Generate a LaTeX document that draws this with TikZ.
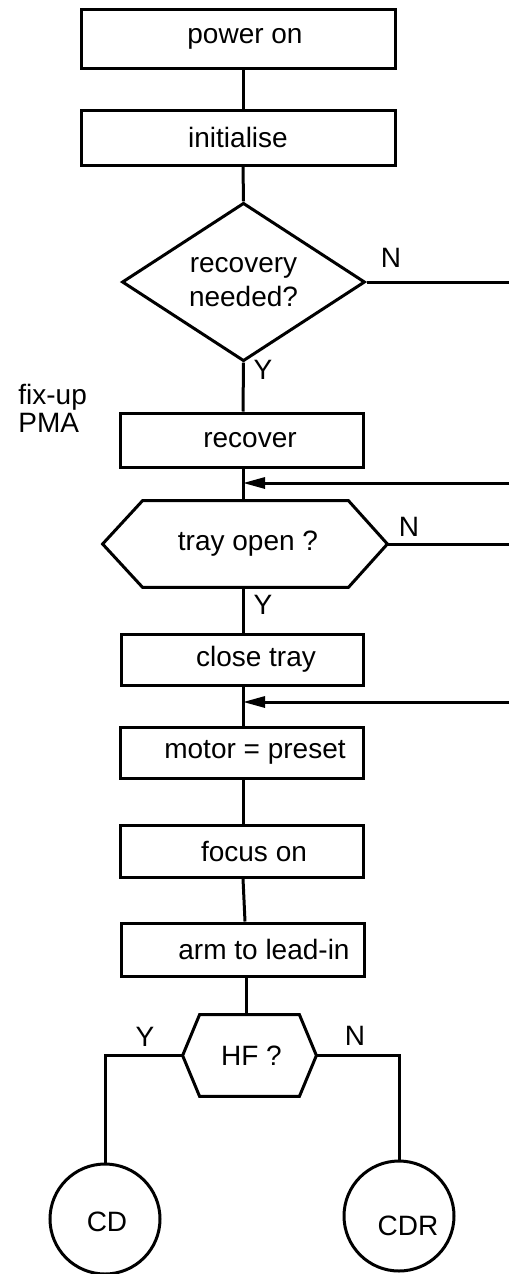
\documentclass[tikz,border=0pt]{standalone}
\usepackage{fontspec}
\setmainfont{Liberation Sans}
\usetikzlibrary{shapes.geometric,arrows.meta,calc}
\tikzset{
  ln/.style={line width=1.5pt, line join=miter},
  box/.style={ln, draw, rectangle, inner sep=0pt},
  hexbox/.style={rectangle, inner sep=0pt},
  dia/.style={ln, draw, diamond, inner sep=0pt, align=center},
  circ/.style={ln, draw, circle, inner sep=0pt, minimum size=55pt},
  lbl/.style={inner sep=0pt},
  merge/.style={ln, -{Triangle[length=11pt,width=5.5pt]}}
}
\begin{document}
\begin{tikzpicture}[x=0.5pt,y=-0.5pt,font=\fontsize{14}{17}\selectfont]
\useasboundingbox (0,0) rectangle (509,1274);
% column of the main line
\coordinate (cx) at (243,0);
% boxes
\node[box, minimum width=157pt, minimum height=29.5pt] (pwr) at (238,38.5) {\hspace*{7pt}power on};
\node[box, minimum width=157pt, minimum height=27.5pt] (init) at (238,137.5) {initialise};
\node[dia, minimum width=121.5pt, minimum height=71.5pt] (rec) at (243.5,282) {recovery\\needed?};
\node[box, minimum width=121.5pt, minimum height=27pt] (recov) at (241.5,440) {\hspace*{8.5pt}recover};
\node[hexbox, minimum width=142pt, minimum height=43pt] (tray) at (245,544) {\hspace*{3pt}tray open ?};
\node[box, minimum width=121pt, minimum height=25.5pt] (close) at (242,659.5) {\hspace*{14pt}close tray};
\node[box, minimum width=121.5pt, minimum height=25.5pt] (motor) at (241.5,752.5) {\hspace*{13.5pt}motor = preset};
\node[box, minimum width=121.5pt, minimum height=26pt] (focus) at (241.5,851) {\hspace*{12.5pt}focus on};
\node[box, minimum width=121.5pt, minimum height=26.5pt] (arm) at (242.5,949.5) {\hspace*{21.5pt}arm to lead-in};
\node[hexbox, minimum width=66.5pt, minimum height=40.5pt] (hf) at (249.5,1055.5) {\hspace*{2pt}HF ?};
\node[circ, label={[lbl,xshift=1pt,yshift=-1.5pt]center:CD}] (cd) at (105,1219) {};
\node[circ, label={[lbl,xshift=4.5pt,yshift=-5pt]center:CDR}] (cdr) at (399,1216) {};
% hexagon outlines
\draw[ln] (tray.west) -- ($(tray.north west)+(40,0)$) -- ($(tray.north east)+(-39,0)$) -- (tray.east)
  -- ($(tray.south east)+(-39,0)$) -- ($(tray.south west)+(40,0)$) -- cycle;
\draw[ln] (hf.west) -- ($(hf.north west)+(17,0)$) -- ($(hf.north east)+(-17,0)$) -- (hf.east)
  -- ($(hf.south east)+(-17,0)$) -- ($(hf.south west)+(17,0)$) -- cycle;
% side note
\node[lbl, anchor=base west, align=left, font=\fontsize{14}{14}\selectfont] (note) at (18,432) {fix-up\\PMA};
% labels
\node[lbl] (n1) at (391,258) {N};
\node[lbl] (y1) at (263,370) {Y};
\node[lbl] (n2) at (409,527) {N};
\node[lbl] (y2) at (263,605) {Y};
\node[lbl] (y3) at (145,1037) {Y};
\node[lbl] (n3) at (355,1036) {N};
% merge points and free ends
\coordinate (m1) at (243,483);
\coordinate (m2) at (243,702);
\coordinate (e1) at (509,483);
\coordinate (e2) at (509,702);
\coordinate (e3) at (509,282);
\coordinate (e4) at (509,544);
% main vertical connectors
\draw[ln] (pwr.south -| cx) -- (init.north -| cx);
\draw[ln] (init.south -| cx) -- (rec.north);
\draw[ln] (rec.south) -- (recov.north -| cx);
\draw[ln] (recov.south -| cx) -- (tray.north -| cx);
\draw[ln] (tray.south -| cx) -- (close.north -| cx);
\draw[ln] (close.south -| cx) -- (motor.north -| cx);
\draw[ln] (motor.south -| cx) -- (focus.north -| cx);
\draw[ln] (focus.south -| cx) -- ([xshift=1pt]arm.north -| cx);
\draw[ln] ([xshift=1.5pt]arm.south -| cx) -- ([xshift=1.5pt]hf.north -| cx);
% N branches leaving to the right
\draw[ln] (rec.east) -- (e3);
\draw[ln] (tray.east) -- (e4);
% returns
\draw[merge] (e1) -- (m1);
\draw[merge] (e2) -- (m2);
% HF branches
\draw[ln] (hf.west) -| (cd.north);
\draw[ln] (hf.east) -| (cdr.north);
\end{tikzpicture}
\end{document}
